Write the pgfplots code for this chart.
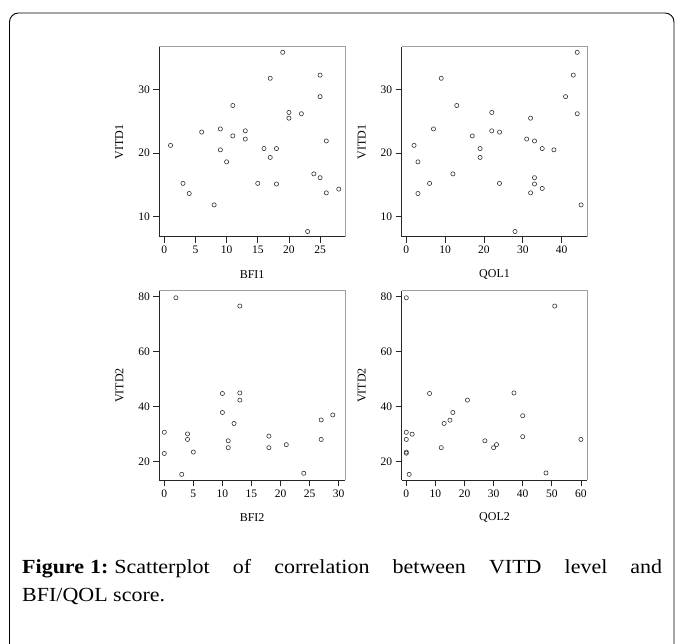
\documentclass[border=0pt]{standalone}
\usepackage{fontspec}
\setmainfont{Liberation Serif}
\newfontfamily\capfont[FakeStretch=1.1]{Liberation Serif}
\usepackage{pgfplots}
\pgfplotsset{compat=1.18}
\tikzset{rbox/.style={gray!75, line width=0.8pt}}
\pgfplotsset{
  sp/.style={
    scale only axis,
    anchor=south west,
    axis x line*=bottom, axis y line*=left,
    axis line style={black!85, line width=0.8pt},
    tick align=outside, major tick length=6pt,
    tick style={black!85, line width=0.7pt},
    tick label style={font=\fontsize{11.5}{12}\selectfont},
    label style={font=\fontsize{12}{13}\selectfont},
    /pgf/number format/assume math mode=true,
    xlabel style={at={(axis description cs:0.5,-0.2)}, anchor=center},
    ylabel style={at={(axis description cs:-0.215,0.5)}, anchor=center},
    clip=false,
  },
  pts/.style={only marks, mark=o, black!80, mark size=2.1pt, mark options={line width=0.6pt}},
}
\begin{document}
\begin{tikzpicture}
\path[use as bounding box] (0pt,0pt) rectangle (683pt,644pt);
\draw[black, line width=0.9pt, rounded corners=9pt] (9.5pt,-5pt) -- (9.5pt,631pt) -- (674pt,631pt) -- (674pt,-5pt);

% Panel 1: BFI1 vs VITD1
\begin{axis}[sp, at={(159.3pt,407.3pt)}, width=185.7pt, height=190pt,
  xmin=-0.8, xmax=29.0, ymin=6.78, ymax=36.79,
  xtick={0,5,10,15,20,25}, ytick={10,20,30},
  xlabel={BFI1}, ylabel={VITD1}]
\addplot[pts] coordinates {
(1,21.2) (3,15.2) (4,13.6) (6,23.3) (8,11.8) (9,23.8) (9,20.5) (10,18.6)
(11,27.5) (11,22.7) (13,23.5) (13,22.2) (15,15.2) (16,20.7) (17,19.3) (17,31.8)
(18,20.7) (18,15.1) (19,35.9) (20,26.4) (20,25.5) (22,26.2) (23,7.6) (24,16.7)
(25,32.3) (25,28.9) (25,16.1) (26,21.9) (26,13.7) (28,14.3)
};
\draw[rbox] (rel axis cs:0,1) -- (rel axis cs:1,1) -- (rel axis cs:1,0);
\end{axis}

% Panel 2: QOL1 vs VITD1
\begin{axis}[sp, at={(401.7pt,407.3pt)}, width=185.6pt, height=190pt,
  xmin=-1.18, xmax=46.6, ymin=6.78, ymax=36.79,
  xtick={0,10,20,30,40}, ytick={10,20,30},
  xlabel={QOL1}, ylabel={VITD1}]
\addplot[pts] coordinates {
(2,21.2) (3,18.6) (3,13.6) (6,15.2) (7,23.8) (9,31.8) (12,16.7) (13,27.5)
(17,22.7) (19,20.7) (19,19.3) (22,26.4) (22,23.5) (24,23.3) (24,15.2) (28,7.6)
(31,22.2) (32,13.7) (32,25.5) (33,21.9) (33,16.1) (33,15.1) (35,20.7) (35,14.4)
(38,20.5) (41,28.9) (43,32.3) (44,35.9) (44,26.2) (45,11.8)
};
\draw[rbox] (rel axis cs:0,1) -- (rel axis cs:1,1) -- (rel axis cs:1,0);
\end{axis}

% Panel 3: BFI2 vs VITD2
\begin{axis}[sp, at={(159.3pt,164pt)}, width=185.7pt, height=189.3pt,
  xmin=-0.86, xmax=31.1, ymin=13.35, ymax=82.18,
  xtick={0,5,10,15,20,25,30}, ytick={20,40,60,80},
  xlabel={BFI2}, ylabel={VITD2}]
\addplot[pts] coordinates {
(0,30.7) (0,23.0) (2,79.6) (3,15.4) (4,30.1) (4,28.1) (5,23.5) (10,44.8)
(10,37.9) (11,27.6) (11,25.1) (12,33.9) (13,76.6) (13,45.0) (13,42.4) (18,29.3)
(18,25.1) (21,26.2) (24,15.8) (27,35.2) (27,28.1) (29,37.0)
};
\draw[rbox] (rel axis cs:0,1) -- (rel axis cs:1,1) -- (rel axis cs:1,0);
\end{axis}

% Panel 4: QOL2 vs VITD2
\begin{axis}[sp, at={(401.7pt,164pt)}, width=185.6pt, height=189.3pt,
  xmin=-1.58, xmax=62.2, ymin=13.35, ymax=82.18,
  xtick={0,10,20,30,40,50,60}, ytick={20,40,60,80},
  xlabel={QOL2}, ylabel={VITD2}]
\addplot[pts] coordinates {
(0,79.6) (0,30.7) (2,30.0) (0,28.1) (0,23.5) (0,23.1) (1,15.4) (8,44.8)
(12,25.1) (13,33.9) (15,35.1) (16,37.9) (21,42.4) (27,27.6) (30,25.1) (31,26.2)
(37,45.0) (40,36.7) (40,29.1) (48,15.9) (51,76.6) (60,28.1)
};
\draw[rbox] (rel axis cs:0,1) -- (rel axis cs:1,1) -- (rel axis cs:1,0);
\end{axis}

% Caption
\node[anchor=west, inner sep=0pt] at (22pt,75pt) {\capfont\fontsize{20}{24}\selectfont\makebox[640pt][s]{\textbf{Figure\hspace{6pt}1:}\hspace{6pt}Scatterplot of correlation between VITD level and}};
\node[anchor=west, inner sep=0pt] at (22pt,47pt) {\capfont\fontsize{20}{24}\selectfont BFI/QOL score.};
\end{tikzpicture}
\end{document}
